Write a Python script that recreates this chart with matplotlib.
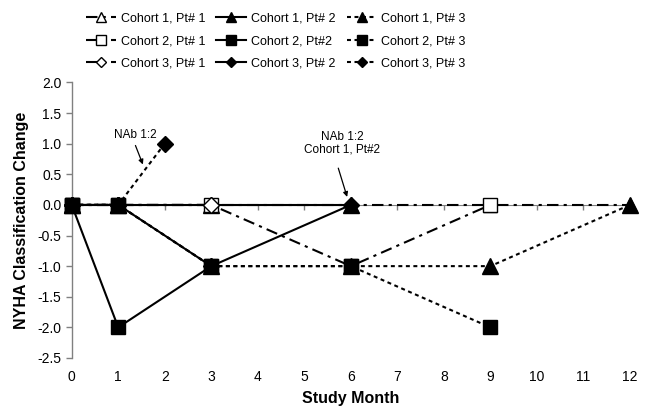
import matplotlib
matplotlib.use("Agg")
import matplotlib.pyplot as plt
from matplotlib.lines import Line2D

plt.rcParams['font.family'] = ['Liberation Sans', 'DejaVu Sans']

# ---- data ----
months_ticks = list(range(0, 13))
y_ticks = [2.0, 1.5, 1.0, 0.5, 0.0, -0.5, -1.0, -1.5, -2.0, -2.5]

c1p1_x = [0, 1, 3, 6, 9, 12]; c1p1_y = [0, 0, 0, 0, 0, 0]
c1p2_x = [0, 1, 3, 6];        c1p2_y = [0, 0, 0, 0]
c1p3_x = [0, 1, 3, 6, 9, 12]; c1p3_y = [0, 0, -1, -1, -1, 0]
c2p1_x = [0, 1, 3, 6, 9];     c2p1_y = [0, 0, 0, -1, 0]
c2p2_x = [0, 1, 3];           c2p2_y = [0, -2, -1]
c2p3_x = [0, 1, 3, 6, 9];     c2p3_y = [0, 0, -1, -1, -2]
c3p1_x = [0, 1, 3];           c3p1_y = [0, 0, 0]
c3p2_x = [0, 1, 3, 6];        c3p2_y = [0, 0, -1, 0]
c3p3_x = [0, 1, 2];           c3p3_y = [0, 0, 1]

labels = {
    'c1p1': 'Cohort 1, Pt# 1', 'c1p2': 'Cohort 1, Pt# 2', 'c1p3': 'Cohort 1, Pt# 3',
    'c2p1': 'Cohort 2, Pt# 1', 'c2p2': 'Cohort 2, Pt#2', 'c2p3': 'Cohort 2, Pt# 3',
    'c3p1': 'Cohort 3, Pt# 1', 'c3p2': 'Cohort 3, Pt# 2', 'c3p3': 'Cohort 3, Pt# 3',
}

fig = plt.figure(figsize=(6.49, 4.09), dpi=100)
ax = fig.add_axes([0.1105, 0.1247, 0.8602, 0.6738])

LW = 1.5
DASHDOT = (5.5, 2.5, 1.5, 2.5)
DOT = (1.9, 1.7)

def style(ls):
    if ls == 'solid':
        return dict(linestyle='-')
    if ls == 'dashdot':
        return dict(linestyle=(0, DASHDOT))
    return dict(linestyle=(0, DOT))

series = {
    'c1p1': (c1p1_x, c1p1_y, '^', 'white', 'dashdot', 9.5),
    'c1p2': (c1p2_x, c1p2_y, '^', 'black', 'solid', 11),
    'c1p3': (c1p3_x, c1p3_y, '^', 'black', 'dotted', 11),
    'c2p1': (c2p1_x, c2p1_y, 's', 'white', 'dashdot', 10),
    'c2p2': (c2p2_x, c2p2_y, 's', 'black', 'solid', 10.5),
    'c2p3': (c2p3_x, c2p3_y, 's', 'black', 'dotted', 10.5),
    'c3p1': (c3p1_x, c3p1_y, 'D', 'white', 'dashdot', 8),
    'c3p2': (c3p2_x, c3p2_y, 'D', 'black', 'solid', 8),
    'c3p3': (c3p3_x, c3p3_y, 'D', 'black', 'dotted', 8),
}

draw_order = ['c1p1', 'c3p2', 'c1p2', 'c2p1', 'c3p1', 'c3p3', 'c1p3', 'c2p3', 'c2p2']
for i, key in enumerate(draw_order):
    x, y, m, fc, ls, ms = series[key]
    ax.plot(x, y, color='black', lw=LW, marker=m, markersize=ms,
            markerfacecolor=fc, markeredgecolor='black', markeredgewidth=1.0,
            clip_on=False, zorder=3 + i * 0.1, **style(ls))

ax.set_xlim(0, 12)
ax.set_ylim(-2.5, 2.0)

# y axis
ax.set_yticks(y_ticks)
ax.set_yticklabels([f"{v:.1f}" for v in y_ticks], fontsize=10)
ax.tick_params(axis='y', direction='out', length=4.5, width=1, color='#808080', pad=3)
ax.spines['left'].set_color('#808080')
ax.spines['left'].set_linewidth(1)
ax.spines['right'].set_visible(False)
ax.spines['top'].set_visible(False)

# x axis line at zero with tick marks, labels at bottom
ax.spines['bottom'].set_position(('data', 0))
ax.spines['bottom'].set_color('#808080')
ax.set_xticks(months_ticks)
ax.tick_params(axis='x', direction='out', length=3.5, width=1, color='#808080',
               labelbottom=False)
sec = ax.secondary_xaxis('bottom')
sec.set_xticks(months_ticks)
sec.set_xticklabels([str(m) for m in months_ticks], fontsize=10)
sec.tick_params(axis='x', length=0, pad=9)
sec.spines['bottom'].set_visible(False)
sec.set_xlabel('Study Month', fontsize=11.5, fontweight='bold', labelpad=5)

ax.set_ylabel('NYHA Classification Change', fontsize=11.5, fontweight='bold', labelpad=6)

# annotations
ax.text(1.36, 1.14, 'NAb 1:2', fontsize=8.5, ha='center', va='center')
ax.annotate('', xy=(1.53, 0.66), xytext=(1.37, 0.97),
            arrowprops=dict(arrowstyle='-|>', color='black', lw=0.9,
                            mutation_scale=7, shrinkA=0, shrinkB=0))
ax.text(5.81, 1.01, 'NAb 1:2\nCohort 1, Pt#2', fontsize=8.5, ha='center', va='center',
        linespacing=1.05)
ax.annotate('', xy=(5.92, 0.13), xytext=(5.73, 0.60),
            arrowprops=dict(arrowstyle='-|>', color='black', lw=0.9,
                            mutation_scale=7, shrinkA=0, shrinkB=0))

# legend (columns = patient, rows = cohort)
legend_order = ['c1p1', 'c2p1', 'c3p1', 'c1p2', 'c2p2', 'c3p2', 'c1p3', 'c2p3', 'c3p3']
handles = []
for key in legend_order:
    x, y, m, fc, ls, ms = series[key]
    handles.append(Line2D([0], [0], color='black', lw=LW, marker=m,
                          markersize=ms * 0.7, markerfacecolor=fc,
                          markeredgecolor='black', markeredgewidth=1.0, **style(ls)))
fig.legend(handles, [labels[k] for k in legend_order], ncol=3,
           loc='upper center', bbox_to_anchor=(0.425, 0.988), frameon=False,
           fontsize=9, handlelength=2.4, handletextpad=0.35, columnspacing=0.9,
           labelspacing=0.85, borderaxespad=0.2)

fig.savefig('out.png', dpi=100)
